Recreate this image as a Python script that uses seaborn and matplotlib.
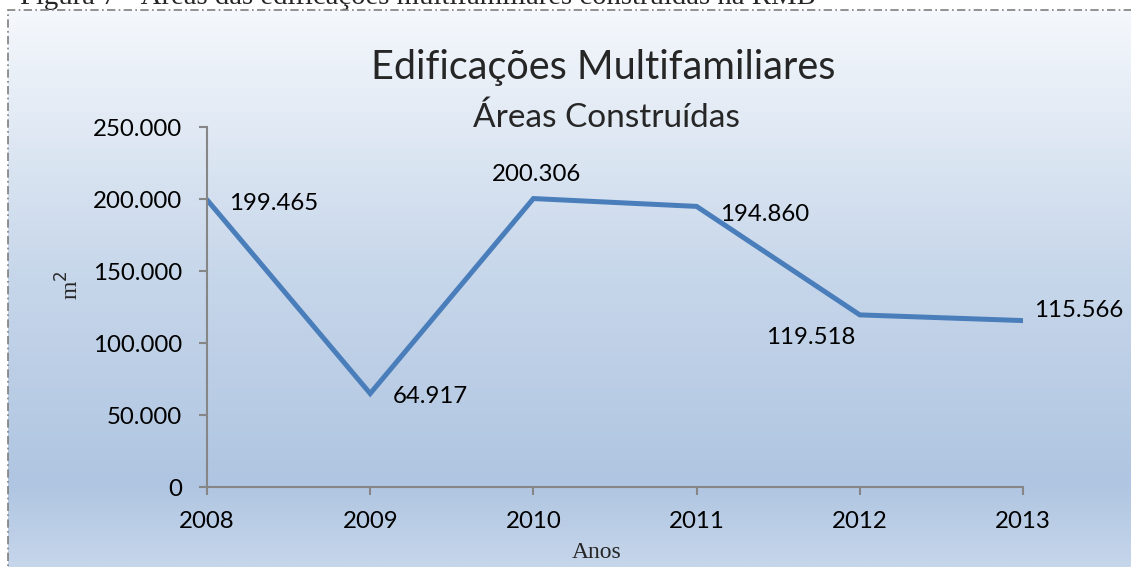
import matplotlib.pyplot as plt
import numpy as np
import seaborn as sns
from matplotlib import colors
from matplotlib.patches import Rectangle
from matplotlib.ticker import FuncFormatter

anos = [2008, 2009, 2010, 2011, 2012, 2013]
areas = [199465, 64917, 200306, 194860, 119518, 115566]
rotulos = ['199.465', '64.917', '200.306', '194.860', '119.518', '115.566']
y_ticks = [0, 50000, 100000, 150000, 200000, 250000]

# label offsets in points (dx, dy) and alignment
offsets = [(16, -3, 'left'), (16, -2, 'left'), (2, 17, 'center'),
           (17, -6, 'left'), (-3, -16, 'right'), (8, 7, 'left')]

sns.set_theme(style='white')
plt.rcParams['font.family'] = ['Lato', 'DejaVu Sans']

fig = plt.figure(figsize=(11.31, 5.67), dpi=100)
W, H = 1131, 567

# gradient background
bg = fig.add_axes([8 / W, 0, 1 - 8 / W, (H - 10) / H], zorder=-10)
grad = colors.LinearSegmentedColormap.from_list(
    'g', [(0, '#c6d6eb'), (0.15, '#afc5e1'), (0.55, '#c9d8eb'), (1, '#f5f8fc')])
bg.imshow(np.linspace(0, 1, 256).reshape(-1, 1), aspect='auto', cmap=grad,
          origin='lower', extent=[0, 1, 0, 1])
bg.set_axis_off()

fig.patches.append(Rectangle((8 / W, -0.01), 1.2, (H - 10) / H + 0.01,
                             transform=fig.transFigure, fill=False,
                             edgecolor='#7f7f7f', linewidth=1.2,
                             linestyle=(0, (5, 2, 1, 2)), zorder=5))

# caption cut off at the top, as in the source image
fig.text(20 / W, 1 - 4 / H, 'Figura 7 - Áreas das edificações multifamiliares construídas na RMB',
         family='Liberation Serif', fontsize=20.7, va='baseline', ha='left')

ax = fig.add_axes([207 / W, (H - 487) / H, (1023 - 207) / W, (487 - 127) / H])
ax.patch.set_alpha(0)
sns.lineplot(x=anos, y=areas, ax=ax, color='#4a7ebb', linewidth=3.6,
             solid_joinstyle='miter', solid_capstyle='round')

for x, y, lab, (dx, dy, ha) in zip(anos, areas, rotulos, offsets):
    ax.annotate(lab, (x, y), xytext=(dx, dy), textcoords='offset points',
                ha=ha, va='center', fontsize=17.3, color='black')

ax.set_xlim(anos[0], anos[-1])
ax.set_ylim(y_ticks[0], y_ticks[-1])
ax.set_xticks(anos)
ax.set_yticks(y_ticks)
ax.yaxis.set_major_formatter(FuncFormatter(lambda v, p: f'{v:,.0f}'.replace(',', '.')))
for s in ['top', 'right']:
    ax.spines[s].set_visible(False)
for s in ['left', 'bottom']:
    ax.spines[s].set_color('#868686')
    ax.spines[s].set_linewidth(1.5)
ax.tick_params(axis='both', which='major', direction='out', length=6, width=1.5,
               color='#868686', labelsize=17.3, labelcolor='black',
               bottom=True, left=True)
ax.tick_params(axis='x', pad=11)
ax.tick_params(axis='y', pad=12)

ax.set_xlabel('Anos', family='Liberation Serif', fontsize=17, labelpad=0)
ax.xaxis.set_label_coords((597 - 207) / (1023 - 207), -(553 - 487) / (487 - 127))
ax.xaxis.label.set_va('center')
ax.set_ylabel('m$^2$', family='Liberation Serif', fontsize=17)
ax.yaxis.set_label_coords(-(207 - 70) / (1023 - 207), (487 - 285) / (487 - 127))
ax.yaxis.label.set_va('center')

fig.text(603 / W, (H - 68) / H, 'Edificações Multifamiliares', ha='center', va='center',
         fontsize=28.5)
fig.text(606 / W, (H - 118) / H, 'Áreas Construídas', ha='center', va='center',
         fontsize=24)

fig.savefig('out.png', dpi=100)
